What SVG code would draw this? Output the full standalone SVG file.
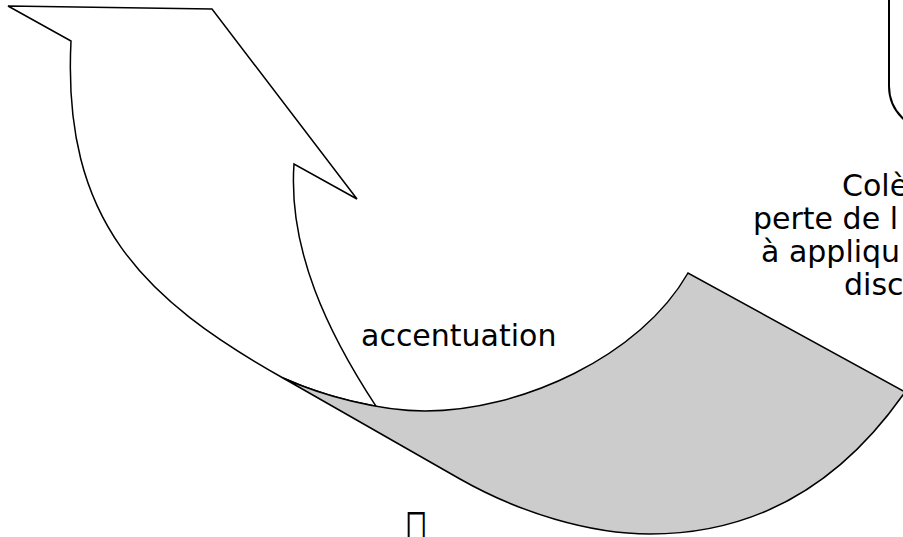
<svg xmlns="http://www.w3.org/2000/svg" width="903" height="537" viewBox="0 0 903 537">
  <style>
    .shape { stroke: #000000; stroke-width: 1.5; stroke-linejoin: miter; }
    .front { fill: #ffffff; }
    .back { fill: #cccccc; }
    .box { fill: #ffffff; stroke: #000000; stroke-width: 2; }
    .lbl { font-family: "DejaVu Sans", Verdana, sans-serif; font-size: 30px; fill: #000000; }
    .sym { font-family: "DejaVu Sans", sans-serif; font-size: 34px; fill: #000000; }
  </style>
  <rect x="0" y="0" width="903" height="537" fill="#ffffff"/>

  <g id="note-box">
    <rect class="box" x="889" y="-60" width="120" height="191" rx="45" ry="45"/>
  </g>

  <g id="curved-arrow">
    <path class="shape front" d="M 8,6 L 212,9 L 357,199 L 294,164 C 288,250 328,333 376.1,406.3 C 343.2,400.5 309.4,389.9 283,378 C 143,299 62,221 71,41 Z"/>
    <path class="shape back" d="M 283,378 C 323,396 380,411 425,411 C 520,411 640,357 688,273 L 905,392 C 843,481 760,534 650,534 C 590,534 520,513 460,479 Z"/>
  </g>

  <g id="label-accentuation">
    <text class="lbl" x="361" y="346">accentuation</text>
  </g>

  <g id="label-colere">
    <text class="lbl" x="842" y="196">Colè</text>
    <text class="lbl" x="753" y="229">perte de l</text>
    <text class="lbl" x="761" y="262">à appliqu</text>
    <text class="lbl" x="844" y="295">disc</text>
  </g>

  <g id="symbol">
    <text class="sym" transform="translate(406,542) scale(1,1.25)" x="0" y="0">&#xF0E8;</text>
  </g>
</svg>
